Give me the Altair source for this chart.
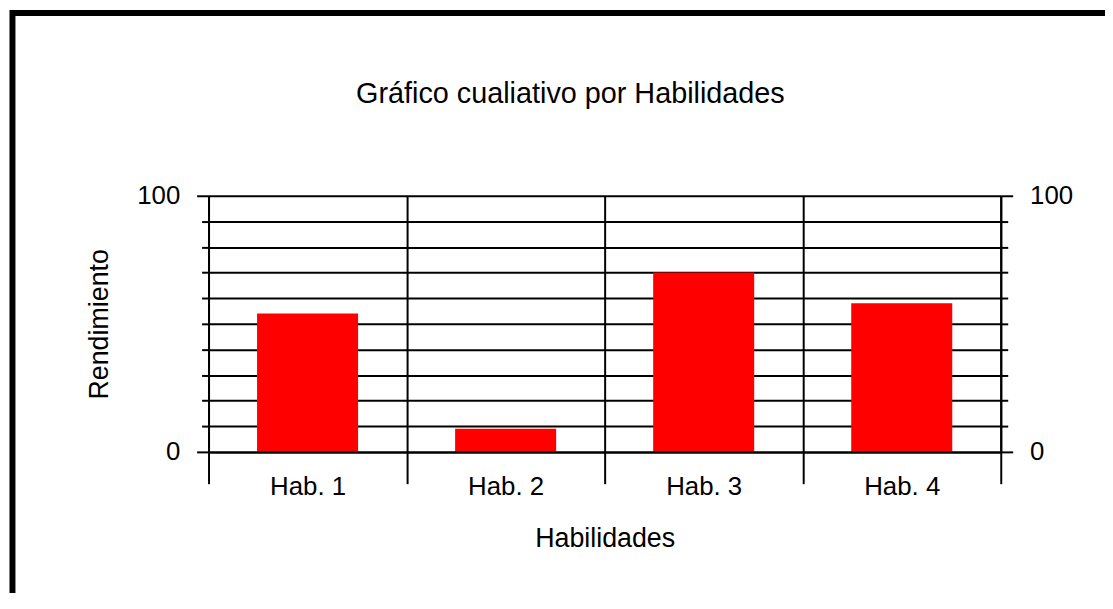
import altair as alt
import pandas as pd

categories = ["Hab. 1", "Hab. 2", "Hab. 3", "Hab. 4"]
values = [54, 9, 70, 58]
y_ticks = list(range(0, 101, 10))

df = pd.DataFrame({"hab": categories, "rend": values})
frame_df = pd.DataFrame({"k": [0]})

FONT = "Liberation Sans"
W, H = 798, 258

x_enc = alt.X(
    "hab:N", sort=categories, title="Habilidades",
    scale=alt.Scale(paddingInner=0, paddingOuter=0),
    axis=alt.Axis(
        tickBand="extent", grid=True, gridColor="black", gridWidth=2,
        domainColor="black", domainWidth=2, tickColor="black", tickWidth=2, tickSize=32,
        labelAngle=0, labelFont=FONT, labelFontSize=26, labelColor="black", labelPadding=-10,
        titleFont=FONT, titleFontSize=27, titleFontWeight="normal", titleColor="black",
        titleBaseline="alphabetic", titleY=95, zindex=1,
    ),
)

tick_size = {"condition": {"test": "datum.value % 100 === 0", "value": 12}, "value": 7}
common_y = dict(
    values=y_ticks,
    labelExpr="datum.value % 100 === 0 ? datum.label : ''",
    domainColor="black", domainWidth=2, tickColor="black", tickWidth=2,
    tickSize=tick_size, labelFont=FONT, labelFontSize=26, labelColor="black",
    labelPadding=17,
)

y_left = alt.Y(
    "rend:Q", title="Rendimiento", scale=alt.Scale(domain=[0, 100], nice=False),
    axis=alt.Axis(
        orient="left", grid=True, gridColor="black", gridWidth=2,
        titleFont=FONT, titleFontSize=27, titleFontWeight="normal", titleColor="black",
        titleAngle=270, titleBaseline="middle", titleAlign="center",
        titleX=-110, titleY=H / 2, **common_y,
    ),
)
y_right = alt.Y(
    "rend:Q", scale=alt.Scale(domain=[0, 100], nice=False),
    axis=alt.Axis(orient="right", grid=False, title=None, **common_y),
)

bars = alt.Chart(df).mark_bar(color="#FF0000", width={"band": 0.51}).encode(x=x_enc, y=y_left)
ghost = alt.Chart(df).mark_bar(opacity=0, width={"band": 0.51}).encode(x=x_enc, y=y_right)

frame = alt.Chart(frame_df).mark_rect(fillOpacity=0, stroke="black", strokeWidth=6).encode(
    x=alt.value(-197.5), x2=alt.value(1000), y=alt.value(-184), y2=alt.value(600)
)

chart = (
    alt.layer(bars, ghost, frame)
    .resolve_axis(y="independent")
    .properties(
        width=W, height=H,
        autosize=alt.AutoSizeParams(type="none"),
        padding={"left": 202, "top": 187, "right": 105, "bottom": 140},
        title=alt.TitleParams(
            "Gráfico cualiativo por Habilidades", font=FONT, fontSize=29,
            fontWeight="normal", color="black", anchor="middle", frame="group",
            dx=-34.5, offset=-123, baseline="alphabetic",
        ),
        background="white",
    )
    .configure_view(stroke=None)
)

chart.save("out.html", embed_options={"renderer": "svg", "actions": False})
